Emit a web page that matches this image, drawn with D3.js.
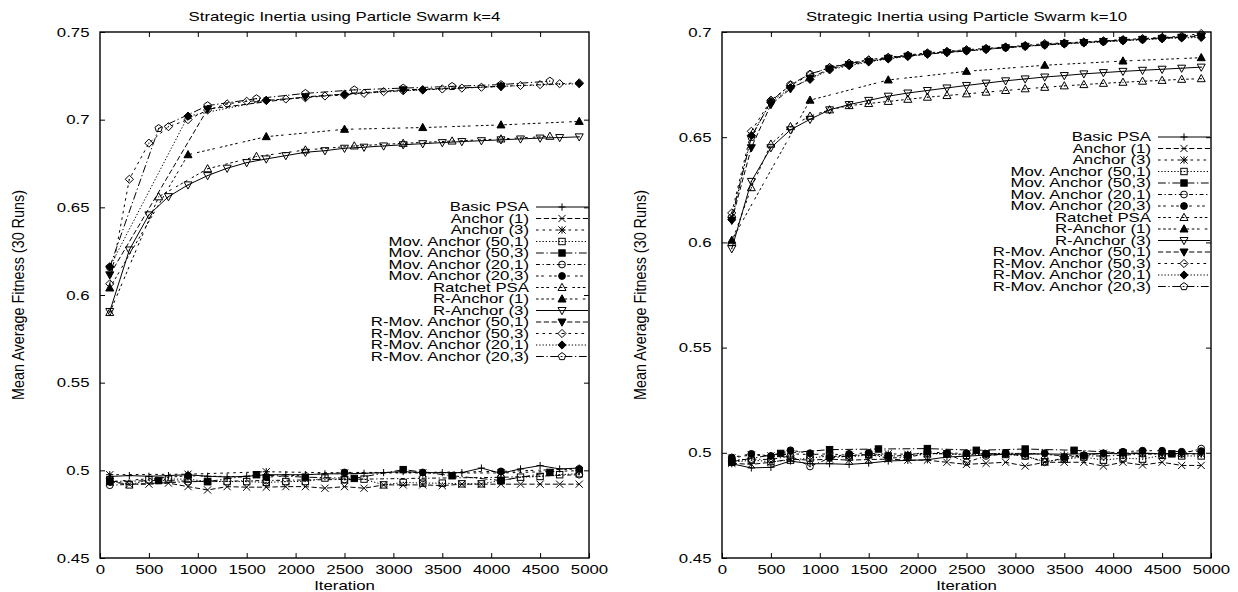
<!DOCTYPE html>
<html>
<head>
<meta charset="utf-8">
<script src="https://cdn.jsdelivr.net/npm/d3@7"></script>
<style>
  body { margin: 0; background: #fff; }
  text { font-family: "Liberation Sans", Arial, Helvetica, sans-serif; font-size: 12px; fill: #000; }
</style>
</head>
<body>
<svg width="1238" height="592"></svg>
<script>
// series names, same order in both plots
const seriesNames = [
  "Basic PSA", "Anchor (1)", "Anchor (3)", "Mov. Anchor (50,1)", "Mov. Anchor (50,3)",
  "Mov. Anchor (20,1)", "Mov. Anchor (20,3)", "Ratchet PSA", "R-Anchor (1)", "R-Anchor (3)",
  "R-Mov. Anchor (50,1)", "R-Mov. Anchor (50,3)", "R-Mov. Anchor (20,1)", "R-Mov. Anchor (20,3)"
];

// iterations at which the runs were sampled
const it200 = [100, 300, 500, 700, 900, 1100, 1300, 1500, 1700, 1900, 2100, 2300, 2500,
  2700, 2900, 3100, 3300, 3500, 3700, 3900, 4100, 4300, 4500, 4700, 4900];
const it500 = [100, 600, 1100, 1600, 2100, 2600, 3100, 3600, 4100, 4600];
const it800 = [100, 900, 1700, 2500, 3300, 4100, 4900];
const it1000 = [100, 1100, 2100, 3100, 4100];

const xTicks = [0, 500, 1000, 1500, 2000, 2500, 3000, 3500, 4000, 4500, 5000];
const yTicksK4 = [0.45, 0.5, 0.55, 0.6, 0.65, 0.7, 0.75];
const yTicksK10 = [0.45, 0.5, 0.55, 0.6, 0.65, 0.7];

// ---- k=4 ----
const basicK4 = [0.4965, 0.497, 0.4966, 0.497, 0.4975, 0.4966, 0.4962, 0.4966, 0.4975, 0.4975, 0.4975, 0.498, 0.498,
  0.4983, 0.4987, 0.4993, 0.4987, 0.4987, 0.4987, 0.5013, 0.4983, 0.5008, 0.5027, 0.5008, 0.5013];
const anchor1K4 = [0.4935, 0.4921, 0.4921, 0.4927, 0.4907, 0.4888, 0.4907, 0.4904, 0.4904, 0.4907, 0.4907, 0.4898, 0.4907,
  0.4898, 0.4917, 0.4917, 0.4917, 0.4913, 0.4921, 0.4921, 0.4921, 0.4921, 0.4921, 0.4921, 0.4921];
const anchor3K4 = [0.4975, 0.4978, 0.4992, 0.4985, 0.4985, 0.4985, 0.4998];
const mov501K4 = [0.4942, 0.4917, 0.4946, 0.495, 0.495, 0.4936, 0.4936, 0.4936, 0.4931, 0.4936, 0.4936, 0.4956, 0.4946,
  0.495, 0.4917, 0.4931, 0.4927, 0.4927, 0.4923, 0.4923, 0.4942, 0.4961, 0.4965, 0.4975, 0.4981];
const mov503K4 = [0.4936, 0.4942, 0.4936, 0.4975, 0.4961, 0.4954, 0.5004, 0.4969, 0.4942, 0.4988];
const mov201K4 = [0.4915, 0.4935, 0.4942, 0.4948, 0.4955, 0.496, 0.4975];
const mov203K4 = [0.4935, 0.4969, 0.4961, 0.4988, 0.4988, 0.4994, 0.5008];
const ratchetK4 = [0.59, 0.656, 0.672, 0.679, 0.6827, 0.685, 0.6865, 0.6878, 0.689, 0.6905];
const rAnchor1K4 = [0.604, 0.68, 0.6903, 0.6945, 0.6955, 0.697, 0.699];
const rAnchor3K4 = [0.5906, 0.6257, 0.6457, 0.6561, 0.6628, 0.6681, 0.6723, 0.6755, 0.6776, 0.6795, 0.6814, 0.6823, 0.6837,
  0.6843, 0.685, 0.6857, 0.6863, 0.6869, 0.6875, 0.688, 0.6885, 0.689, 0.6895, 0.6898, 0.6902];
const rMov501K4 = [0.6115, 0.706, 0.713, 0.717, 0.719];
const rMov503K4 = [0.6064, 0.666, 0.6866, 0.696, 0.7, 0.7055, 0.709, 0.7105, 0.711, 0.7118, 0.7125, 0.7135, 0.714,
  0.715, 0.716, 0.7165, 0.717, 0.7175, 0.718, 0.7185, 0.719, 0.7195, 0.72, 0.7205, 0.721];
const rMov201K4 = [0.616, 0.702, 0.711, 0.7145, 0.717, 0.719, 0.7205];
const rMov203K4 = [0.616, 0.695, 0.708, 0.712, 0.715, 0.717, 0.718, 0.719, 0.72, 0.722];

// ---- k=10 ----
const basicK10 = [0.4948, 0.4928, 0.4931, 0.4961, 0.4948, 0.4948, 0.4945, 0.4951, 0.4961, 0.4964, 0.4967, 0.498, 0.4984,
  0.4989, 0.4993, 0.4993, 0.4995, 0.4993, 0.4995, 0.4997, 0.4995, 0.4997, 0.4995, 0.4997, 0.4995];
const anchor1K10 = [0.495, 0.4945, 0.4955, 0.497, 0.4965, 0.497, 0.4965, 0.4968, 0.497, 0.4965, 0.4965, 0.4955, 0.4945,
  0.495, 0.4955, 0.4937, 0.4955, 0.4955, 0.4955, 0.4937, 0.4955, 0.4942, 0.4955, 0.494, 0.494];
const anchor3K10 = [0.4975, 0.499, 0.4985, 0.4995, 0.4992, 0.4995, 0.4988, 0.4992, 0.4995, 0.4993, 0.4998, 0.4995, 0.4993,
  0.4995, 0.4998, 0.4997, 0.4993, 0.4985, 0.4988, 0.4998, 0.4995, 0.4998, 0.4996, 0.4993, 0.4995];
const mov501K10 = [0.4955, 0.4965, 0.4958, 0.4965, 0.4975, 0.4985, 0.498, 0.499, 0.4985, 0.4985, 0.4995, 0.4995, 0.4988,
  0.4995, 0.4992, 0.4985, 0.4958, 0.497, 0.498, 0.4965, 0.4975, 0.497, 0.4988, 0.4985, 0.4985];
const mov503K10 = [0.4958, 0.4997, 0.5015, 0.5018, 0.502, 0.5012, 0.5018, 0.5012, 0.5, 0.4995];
const mov201K10 = [0.4965, 0.497, 0.4968, 0.4985, 0.4935, 0.4975, 0.4985, 0.4992, 0.4975, 0.4978, 0.4998, 0.4995, 0.4955,
  0.4985, 0.4995, 0.4985, 0.4955, 0.4975, 0.4985, 0.4985, 0.4988, 0.4995, 0.4992, 0.4995, 0.502];
const mov203K10 = [0.4978, 0.4995, 0.4985, 0.5012, 0.4998, 0.4978, 0.4995, 0.5, 0.4985, 0.4988, 0.5005, 0.4998, 0.4998,
  0.4995, 0.4998, 0.4995, 0.4998, 0.498, 0.4988, 0.4998, 0.5005, 0.501, 0.501, 0.5005, 0.5008];
const ratchetK10 = [0.6, 0.626, 0.6467, 0.655, 0.66, 0.663, 0.665, 0.666, 0.667, 0.668, 0.669, 0.6698, 0.6706,
  0.6714, 0.6722, 0.673, 0.6737, 0.6744, 0.675, 0.6756, 0.6761, 0.6766, 0.677, 0.6775, 0.6778];
const rAnchor1K10 = [0.601, 0.6676, 0.6772, 0.6813, 0.6842, 0.6862, 0.6878];
const rAnchor3K10 = [0.597, 0.629, 0.645, 0.6535, 0.6585, 0.663, 0.6655, 0.6675, 0.6695, 0.671, 0.6722, 0.6734, 0.6746,
  0.6757, 0.6768, 0.6777, 0.6786, 0.6793, 0.6801, 0.6807, 0.6813, 0.6818, 0.6823, 0.6828, 0.6833];
const rMov501K10 = [0.6105, 0.645, 0.6655, 0.673, 0.678, 0.6825, 0.6845, 0.686, 0.6875, 0.6885, 0.6895, 0.6902, 0.691,
  0.6918, 0.6925, 0.6932, 0.6938, 0.6945, 0.695, 0.6955, 0.696, 0.6965, 0.697, 0.6975, 0.698];
const rMov503K10 = [0.614, 0.6528, 0.6676, 0.6746, 0.6797, 0.6832, 0.6852, 0.6868, 0.688, 0.689, 0.6901, 0.6908, 0.6916,
  0.6922, 0.6929, 0.6936, 0.6945, 0.6948, 0.6953, 0.6958, 0.6964, 0.6969, 0.6974, 0.698, 0.6993];
const rMov201K10 = [0.6108, 0.6508, 0.6666, 0.6735, 0.6775, 0.682, 0.684, 0.6858, 0.6872, 0.6884, 0.6895, 0.6903, 0.691,
  0.6917, 0.6925, 0.6932, 0.6938, 0.6943, 0.6948, 0.6953, 0.6958, 0.6963, 0.6968, 0.6972, 0.6974];
const rMov203K10 = [0.612, 0.65, 0.667, 0.675, 0.68, 0.683, 0.685, 0.6865, 0.6878, 0.6888, 0.6898, 0.6906, 0.6913,
  0.692, 0.6927, 0.6934, 0.694, 0.6946, 0.6951, 0.6956, 0.6962, 0.6967, 0.6972, 0.6977, 0.6985];

// gnuplot postscript line types (dash units) and point types
const dashes = [[], [4, 2], [2, 3], [1, 1.5], [6, 2, 1, 2], [3, 2, 1, 2], [2, 2, 2, 4], [2, 2, 2, 2, 2, 4], [2, 2, 2, 2, 2, 2, 2, 4]];
const points = ["plus", "cross", "star", "box", "fbox", "circle", "fcircle", "tri", "ftri", "itri", "fitri", "diamond", "fdiamond", "pent"];
const DL = 1.3;   // dash unit in px
const SX = 1.4;   // the original eps was stretched sideways

const panels = [
  {
    title: "Strategic Inertia using Particle Swarm k=4", x0: 100, yDomain: [0.45, 0.75], yTicks: yTicksK4,
    legendY: 207,
    xs: [it200, it200, it800, it200, it500, it800, it800, it500, it800, it200, it1000, it200, it800, it500],
    ys: [basicK4, anchor1K4, anchor3K4, mov501K4, mov503K4, mov201K4, mov203K4,
      ratchetK4, rAnchor1K4, rAnchor3K4, rMov501K4, rMov503K4, rMov201K4, rMov203K4]
  },
  {
    title: "Strategic Inertia using Particle Swarm k=10", x0: 722, yDomain: [0.45, 0.7], yTicks: yTicksK10,
    legendY: 137,
    xs: [it200, it200, it200, it200, it500, it200, it200, it200, it800, it200, it200, it200, it200, it200],
    ys: [basicK10, anchor1K10, anchor3K10, mov501K10, mov503K10, mov201K10, mov203K10,
      ratchetK10, rAnchor1K10, rAnchor3K10, rMov501K10, rMov503K10, rMov201K10, rMov203K10]
  }
];

const svg = d3.select("svg");
const W = 489, plotTop = 32, plotBottom = 558;

function stretchedText(g, str, x, y, anchor) {
  return g.append("text")
    .attr("transform", `translate(${x},${y}) scale(${SX},1)`)
    .attr("text-anchor", anchor)
    .text(str);
}

// draw one gnuplot style point
function drawPoint(g, type, x, y) {
  const s = 3.6;
  const p = g.append("g").attr("transform", `translate(${x},${y})`)
    .attr("stroke", "#000").attr("stroke-width", 1).attr("fill", "none");
  const filled = type[0] === "f";
  const base = filled ? type.slice(1) : type;
  let shape = null;
  if (type === "plus" || type === "star") {
    p.append("path").attr("d", `M${-s},0H${s}M0,${-s}V${s}`);
  }
  if (type === "cross" || type === "star") {
    p.append("path").attr("d", `M${-s},${-s}L${s},${s}M${-s},${s}L${s},${-s}`);
  }
  if (base === "box") shape = p.append("rect").attr("x", -s + 0.4).attr("y", -s + 0.4).attr("width", 2 * s - 0.8).attr("height", 2 * s - 0.8);
  if (base === "circle") shape = p.append("circle").attr("r", s - 0.2);
  if (base === "tri") shape = p.append("path").attr("d", `M0,${-s - 0.6}L${s + 0.4},${s - 0.6}L${-s - 0.4},${s - 0.6}Z`);
  if (base === "itri") shape = p.append("path").attr("d", `M0,${s + 0.6}L${s + 0.4},${-s + 0.6}L${-s - 0.4},${-s + 0.6}Z`);
  if (base === "diamond") shape = p.append("path").attr("d", `M0,${-s - 0.5}L${s + 0.5},0L0,${s + 0.5}L${-s - 0.5},0Z`);
  if (base === "pent") {
    const pts = d3.range(5).map(i => {
      const a = -Math.PI / 2 + i * 2 * Math.PI / 5;
      return [(s + 0.3) * Math.cos(a), (s + 0.3) * Math.sin(a)];
    });
    shape = p.append("path").attr("d", "M" + pts.join("L") + "Z");
  }
  if (shape) {
    if (filled) shape.attr("fill", "#000");
    else p.append("circle").attr("r", 0.6).attr("fill", "#000").attr("stroke", "none");
  }
}

panels.forEach(pn => {
  const x = d3.scaleLinear().domain([0, 5000]).range([pn.x0, pn.x0 + W]);
  const y = d3.scaleLinear().domain(pn.yDomain).range([plotBottom, plotTop]);
  const g = svg.append("g");

  // axes, ticks point inwards on all four sides
  const fmtY = v => String(+v.toFixed(2));
  const ax = g.append("g").attr("transform", `translate(0,${plotBottom})`)
    .call(d3.axisBottom(x).tickValues(xTicks).tickSize(-5).tickPadding(0).tickFormat(d3.format("d")));
  ax.selectAll("text").attr("y", 16).attr("dy", null).attr("transform", `scale(${SX},1)`);
  g.append("g").attr("transform", `translate(0,${plotTop})`)
    .call(d3.axisTop(x).tickValues(xTicks.slice(1, -1)).tickSize(-5).tickFormat(""));
  const ay = g.append("g").attr("transform", `translate(${pn.x0},0)`)
    .call(d3.axisLeft(y).tickValues(pn.yTicks).tickSize(-5).tickFormat(fmtY));
  ay.selectAll("text").attr("x", -10.5 / SX).attr("dy", "0.34em").attr("transform", `scale(${SX},1)`);
  g.append("g").attr("transform", `translate(${pn.x0 + W},0)`)
    .call(d3.axisRight(y).tickValues(pn.yTicks.slice(1, -1)).tickSize(-5).tickFormat(""));
  g.selectAll(".domain").remove();
  g.selectAll(".tick line").attr("stroke", "#000");
  g.selectAll(".tick text").attr("font-family", null).attr("font-size", null).attr("fill", "#000");
  g.selectAll("g").attr("font-family", null).attr("font-size", null);

  g.append("rect").attr("x", pn.x0).attr("y", plotTop).attr("width", W).attr("height", plotBottom - plotTop)
    .attr("fill", "none").attr("stroke", "#000").attr("stroke-width", 1.4);

  // titles
  stretchedText(g, pn.title, pn.x0 + W / 2, 21, "middle");
  stretchedText(g, "Iteration", pn.x0 + W / 2, 590, "middle");
  g.append("text")
    .attr("transform", `translate(${pn.x0 - 76},${(plotTop + plotBottom) / 2}) rotate(-90) scale(1.2,${SX})`)
    .attr("text-anchor", "middle")
    .text("Mean Average Fitness (30 Runs)");

  // series
  const line = d3.line().x(d => x(d[0])).y(d => y(d[1]));
  seriesNames.forEach((name, i) => {
    const pts = pn.xs[i].map((it, j) => [it, pn.ys[i][j]]);
    const dash = dashes[i % 9].map(v => v * DL).join(",");
    g.append("path").datum(pts).attr("d", line)
      .attr("fill", "none").attr("stroke", "#000").attr("stroke-width", 1)
      .attr("stroke-dasharray", dash || null);
    pts.forEach(d => drawPoint(g, points[i], x(d[0]), y(d[1])));

    // legend row
    const ly = pn.legendY + i * 11.5;
    const lx = pn.x0 + W - 60;
    stretchedText(g, name, lx, ly + 4, "end");
    g.append("line").attr("x1", lx + 7).attr("x2", pn.x0 + W - 1).attr("y1", ly).attr("y2", ly)
      .attr("stroke", "#000").attr("stroke-width", 1).attr("stroke-dasharray", dash || null);
    drawPoint(g, points[i], lx + 33, ly);
  });
});
</script>
</body>
</html>
